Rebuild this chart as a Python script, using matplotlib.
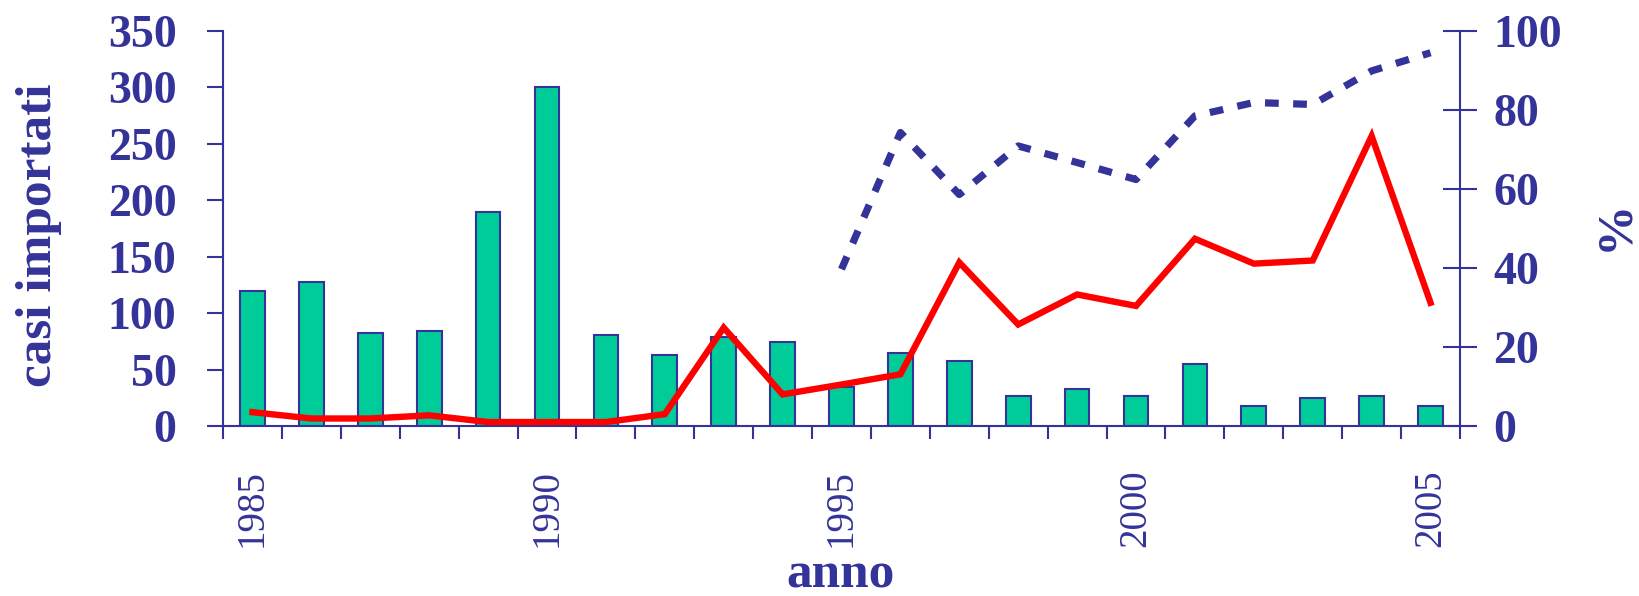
import numpy as np
import matplotlib
matplotlib.use("Agg")
import matplotlib.pyplot as plt

years = list(range(1985, 2006))
casi = [120, 128, 82, 84, 190, 300, 81, 63, 79, 74, 35, 65, 58, 27, 33, 27, 55, 18, 25, 27, 18]
perc_red = [3.5, 1.9, 1.9, 2.7, 1.0, 1.0, 1.0, 3.0, 24.9, 8.0, 10.5, 13.1, 41.4, 25.7, 33.3, 30.4,
            47.4, 41.1, 41.9, 73.4, 31.2]
perc_blue_years = list(range(1995, 2006))
perc_blue = [39.7, 74.3, 58.6, 70.9, 66.7, 62.4, 78.5, 81.9, 81.4, 89.9, 94.5]
year_labels = ["1985", "1990", "1995", "2000", "2005"]

navy = "#333399"
green = "#00CC99"
red = "#FF0000"
plt.rcParams['font.family'] = ['Liberation Serif', 'DejaVu Serif']

W, H = 1639, 596
fig = plt.figure(figsize=(W / 100, H / 100), dpi=100)
L, R, T, B = 223, 1460, 31, 426
ax = fig.add_axes([L / W, 1 - B / H, (R - L) / W, (B - T) / H])

x = np.arange(len(years))
ax.bar(x, casi, width=0.42, color=green, edgecolor=navy, linewidth=1.5, zorder=2)
ax.set_xlim(-0.5, len(years) - 0.5)
ax.set_ylim(0, 350)
ax.set_yticks(range(0, 351, 50))
ax.set_yticklabels([str(v) for v in range(0, 351, 50)], fontsize=33, fontweight='bold', color=navy)
ax.tick_params(axis='y', direction='out', length=11.5, width=1.5, color=navy, pad=22)

pos = [years.index(int(s)) for s in year_labels]
ax.set_xticks(pos)
ax.set_xticklabels(year_labels, rotation=90, fontsize=28, color=navy, va='top', ha='center')
ax.set_xticks(np.arange(-0.5, len(years), 1), minor=True)
ax.tick_params(axis='x', which='major', length=0, pad=31)
ax.tick_params(axis='x', which='minor', direction='out', length=9, width=1.5, color=navy)

for s in ['top', 'right']:
    ax.spines[s].set_visible(False)
for s in ['left', 'bottom']:
    ax.spines[s].set_color(navy)
    ax.spines[s].set_linewidth(1.5)

ax2 = ax.twinx()
ax2.set_ylim(0, 100)
ax2.plot(x, perc_red, color=red, linewidth=4.6, solid_joinstyle='miter', zorder=3)
xb = [years.index(y) for y in perc_blue_years]
ax2.plot(xb, perc_blue, color=navy, linewidth=5.2, linestyle=(0, (1.9, 2.0)), dash_capstyle='butt', zorder=3)
ax2.set_yticks(range(0, 101, 20))
ax2.set_yticklabels([str(v) for v in range(0, 101, 20)], fontsize=33, fontweight='bold', color=navy)
ax2.tick_params(axis='y', direction='inout', length=24, width=1.5, color=navy, pad=12)
for s in ['top', 'left', 'bottom']:
    ax2.spines[s].set_visible(False)
ax2.spines['right'].set_color(navy)
ax2.spines['right'].set_linewidth(1.5)

fig.text(39 / W, 1 - 235 / H, "casi importati", rotation=90, fontsize=37, fontweight='bold',
         color=navy, ha='center', va='center')
fig.text(841 / W, 1 - 575 / H, "anno", fontsize=37, fontweight='bold', color=navy, ha='center', va='center')
fig.text(1615 / W, 1 - 225 / H, "%", rotation=90, fontsize=37, fontweight='bold', color=navy,
         ha='center', va='center')

fig.savefig("out.png", dpi=100)
